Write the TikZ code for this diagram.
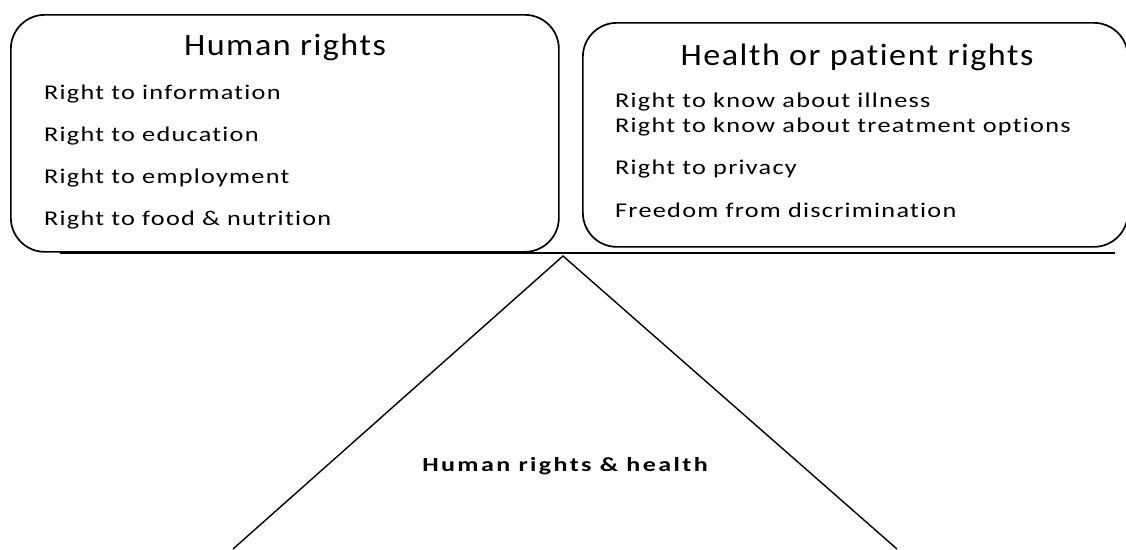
\documentclass[tikz,border=0pt]{standalone}
\usepackage{fontspec}
\setmainfont{Carlito}
\newfontfamily\itemfont[FakeStretch=1.25,LetterSpace=6,Ligatures=CommonOff]{Carlito}
\newfontfamily\titlefont[FakeStretch=1.1,LetterSpace=5,Ligatures=CommonOff]{Carlito}
\newfontfamily\boldfont[FakeStretch=1.3,LetterSpace=12,Ligatures=CommonOff,UprightFont=* Bold]{Carlito}
\begin{document}
\begin{tikzpicture}[x=1pt,y=-1pt,
  box/.style={draw=black,line width=1.7pt,rounded corners=34pt,inner sep=0pt},
  ttl/.style={font=\titlefont\fontsize{31}{36}\selectfont,anchor=base,inner sep=0pt},
  itm/.style={font=\itemfont\fontsize{21}{25}\selectfont,anchor=base west,inner sep=0pt},
  bld/.style={font=\boldfont\fontsize{20}{24}\selectfont,anchor=base,inner sep=0pt}]
\useasboundingbox (0,0) rectangle (1126,549);
\node[box,minimum width=548pt,minimum height=237pt,anchor=north west] (lb) at (10,14) {};
\node[box,minimum width=545pt,minimum height=224pt,anchor=north west] (rb) at (582,22) {};
\node[ttl] (lt) at (285,55) {Human rights};
\node[itm] (l1) at (44,99) {Right to information};
\node[itm] (l2) at (44,141) {Right to education};
\node[itm] (l3) at (44,183) {Right to employment};
\node[itm] (l4) at (44,225) {Right to food \& nutrition};
\node[ttl] (rt) at (857,65) {Health or patient rights};
\node[itm] (r1) at (615,107) {Right to know about illness};
\node[itm] (r2) at (615,132) {Right to know about treatment options};
\node[itm] (r3) at (615,174) {Right to privacy};
\node[itm] (r4) at (615,217) {Freedom from discrimination};
\coordinate (h1) at (60,253);
\coordinate (h2) at (1115,253);
\draw[line width=2.4pt] (h1) -- (h2);
\coordinate (apex) at (563,256);
\coordinate (bl) at (233,549);
\coordinate (br) at (897,549);
\draw[line width=1.4pt] (bl) -- (apex) -- (br);
\node[bld] (c) at (565,471) {Human rights \& health};
\end{tikzpicture}
\end{document}
